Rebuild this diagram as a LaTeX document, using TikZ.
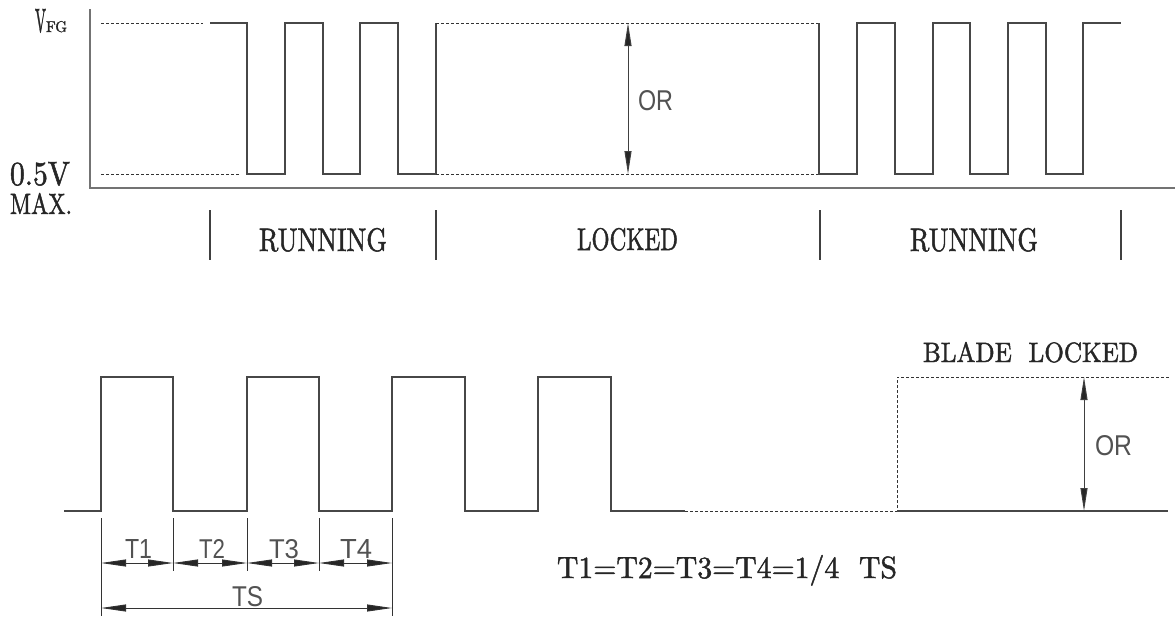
\documentclass[tikz,border=0pt]{standalone}
\usepackage{fontspec}
\usepackage{graphicx}
\setmainfont{Latin Modern Roman}[FakeBold=1.6]
\newfontfamily\lblsans{Liberation Sans}
\usetikzlibrary{arrows.meta}
\begin{document}
\begin{tikzpicture}[x=1pt,y=-1pt,
  wave/.style={draw=black!72,line width=1.2pt,line join=miter},
  dashline/.style={draw=black!80,line width=0.8pt,dash pattern=on 3pt off 2pt},
  axisline/.style={draw=black!55,line width=1.4pt},
  divider/.style={draw=black!75,line width=1.1pt},
  extline/.style={draw=black!80,line width=0.9pt},
  orarrow/.style={draw=black!75,line width=1pt,{Triangle[length=23pt,width=7pt,fill=black!85]}-{Triangle[length=23pt,width=7pt,fill=black!85]}},
  dimarrow/.style={draw=black!80,line width=0.9pt,{Triangle[length=25pt,width=7pt,fill=black!85]}-{Triangle[length=25pt,width=7pt,fill=black!85]}},
  txt/.style={anchor=base west,inner sep=0pt,outer sep=0pt,text=black!85},
  stxt/.style={anchor=base west,inner sep=0pt,outer sep=0pt,text=black!68,font=\lblsans}]
\useasboundingbox (0,0) rectangle (1175,616);

% ---------- top diagram ----------
\draw[axisline] (90,9) -- (90,188) -- (1175,188);
\draw[dashline] (101,23) -- (203,23);
\draw[dashline] (101,174) -- (240,174);
\draw[wave] (210,23) -- (247,23) -- (247,174) -- (285,174) -- (285,23) -- (323,23) -- (323,174)
  -- (360,174) -- (360,23) -- (398,23) -- (398,174) -- (436,174) -- (436,23);
\draw[dashline] (436,23) -- (819,23);
\draw[dashline] (436,174) -- (819,174);
\draw[wave] (819,23) -- (819,174) -- (857,174) -- (857,23) -- (895,23) -- (895,174) -- (933,174)
  -- (933,23) -- (970,23) -- (970,174) -- (1008,174) -- (1008,23) -- (1046,23) -- (1046,174)
  -- (1083,174) -- (1083,23) -- (1121,23);
\coordinate (orTopA) at (628,23);
\coordinate (orTopB) at (628,174);
\draw[orarrow] (orTopA) -- (orTopB);
\node[stxt] (orTop) at (638,110) {\resizebox{35pt}{20pt}{OR}};

\node[txt] (vV) at (35,32) {\resizebox{11pt}{23pt}{V}};
\node[txt] (vFG) at (46,32) {\resizebox{21pt}{11pt}{FG}};
\node[txt] (v05) at (10,185) {\resizebox{60pt}{23pt}{0.5V}};
\node[txt] (vmax) at (10,214) {\resizebox{62pt}{21pt}{MAX.}};

\draw[divider] (210,210) -- (210,260);
\draw[divider] (436,210) -- (436,260);
\draw[divider] (820,210) -- (820,260);
\draw[divider] (1121,210) -- (1121,260);
\node[txt] (run1) at (259,251) {\resizebox{128pt}{23pt}{RUNNING}};
\node[txt] (lock) at (577,250) {\resizebox{101pt}{22pt}{LOCKED}};
\node[txt] (run2) at (910,251) {\resizebox{128pt}{23pt}{RUNNING}};

% ---------- bottom diagram ----------
\draw[wave] (64,511) -- (101,511) -- (101,377) -- (173,377) -- (173,511) -- (247,511) -- (247,377)
  -- (319,377) -- (319,511) -- (392,511) -- (392,377) -- (465,377) -- (465,511) -- (538,511)
  -- (538,377) -- (611,377) -- (611,511) -- (685,511);
\draw[dashline] (685,511) -- (897,511) -- (897,377) -- (1170,377);
\draw[wave] (897,511) -- (1168,511);
\coordinate (orBotA) at (1084,377);
\coordinate (orBotB) at (1084,511);
\draw[orarrow] (orBotA) -- (orBotB);
\node[stxt] (orBot) at (1095,455) {\resizebox{37pt}{20pt}{OR}};
\node[txt] (blade) at (923,362) {\resizebox{215pt}{20pt}{BLADE\ \ LOCKED}};

% dimension lines
\coordinate (e0) at (101,563);
\coordinate (e1) at (173,563);
\coordinate (e2) at (247,563);
\coordinate (e3) at (319,563);
\coordinate (e4) at (392,563);
\coordinate (s0) at (101,608);
\coordinate (s4) at (392,608);
\draw[extline] (101,518) -- (101,616);
\draw[extline] (173,518) -- (173,571);
\draw[extline] (247,518) -- (247,571);
\draw[extline] (319,518) -- (319,571);
\draw[extline] (392,518) -- (392,616);
\draw[dimarrow] (e0) -- (e1);
\draw[dimarrow] (e1) -- (e2);
\draw[dimarrow] (e2) -- (e3);
\draw[dimarrow] (e3) -- (e4);
\draw[dimarrow] (s0) -- (s4);
\node[stxt] (t1) at (125,558) {\resizebox{27pt}{19pt}{T1}};
\node[stxt] (t2) at (199,558) {\resizebox{26pt}{19pt}{T2}};
\node[stxt] (t3) at (269,558) {\resizebox{30pt}{19pt}{T3}};
\node[stxt] (t4) at (340,558) {\resizebox{32pt}{19pt}{T4}};
\node[stxt] (ts) at (232,606) {\resizebox{31pt}{20pt}{TS}};

\node[txt] (formula) at (557,578) {\resizebox{340pt}{23pt}{T1=T2=T3=T4=1/4\ \ TS}};
\end{tikzpicture}
\end{document}
